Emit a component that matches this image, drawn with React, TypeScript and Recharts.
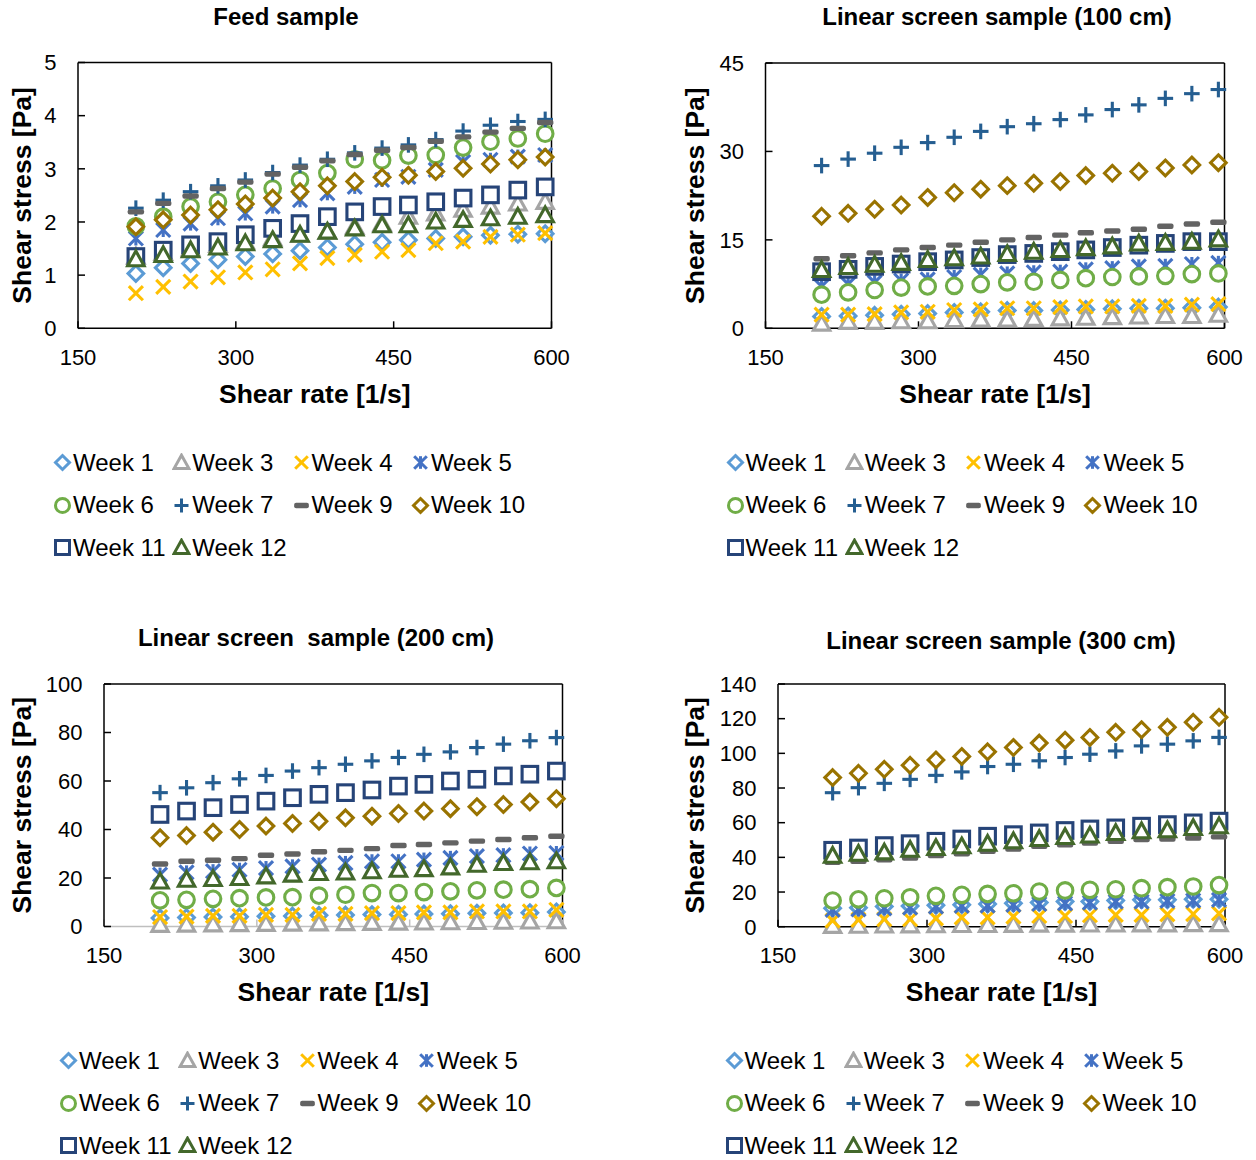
import { ScatterChart, Scatter, XAxis, YAxis, ReferenceLine } from 'recharts';

// shear rates of the ramp, shared by every sample
const shearRate = [205, 231, 257, 283, 309, 335, 361, 387, 413, 439, 464, 490, 516, 542, 568, 594];

const weeks = ['Week 1', 'Week 3', 'Week 4', 'Week 5', 'Week 6', 'Week 7', 'Week 9', 'Week 10', 'Week 11', 'Week 12'];

// shear stress [Pa], one row per entry of `weeks`
const feedStress = [
  [1.03, 1.14, 1.22, 1.29, 1.35, 1.4, 1.46, 1.52, 1.58, 1.62, 1.66, 1.69, 1.72, 1.75, 1.77, 1.78],
  [1.35, 1.42, 1.5, 1.57, 1.63, 1.69, 1.76, 1.82, 1.91, 1.97, 2.1, 2.16, 2.23, 2.29, 2.35, 2.38],
  [0.66, 0.78, 0.88, 0.96, 1.05, 1.11, 1.22, 1.32, 1.38, 1.44, 1.47, 1.6, 1.63, 1.72, 1.76, 1.79],
  [1.69, 1.85, 1.97, 2.07, 2.16, 2.29, 2.41, 2.54, 2.66, 2.79, 2.85, 2.98, 3.13, 3.17, 3.23, 3.26],
  [1.92, 2.1, 2.29, 2.38, 2.51, 2.63, 2.79, 2.92, 3.18, 3.16, 3.25, 3.26, 3.4, 3.51, 3.57, 3.66],
  [2.26, 2.41, 2.57, 2.68, 2.79, 2.93, 3.07, 3.18, 3.3, 3.39, 3.45, 3.55, 3.71, 3.82, 3.89, 3.93],
  [2.19, 2.35, 2.49, 2.63, 2.75, 2.9, 3.03, 3.15, 3.27, 3.35, 3.4, 3.52, 3.6, 3.69, 3.76, 3.87],
  [1.91, 2.04, 2.13, 2.23, 2.34, 2.45, 2.57, 2.68, 2.76, 2.84, 2.88, 2.95, 3.01, 3.09, 3.17, 3.22],
  [1.35, 1.47, 1.57, 1.63, 1.76, 1.88, 1.97, 2.1, 2.19, 2.29, 2.32, 2.38, 2.45, 2.51, 2.6, 2.66],
  [1.3, 1.38, 1.47, 1.52, 1.6, 1.66, 1.76, 1.82, 1.88, 1.94, 1.94, 2.01, 2.04, 2.07, 2.1, 2.13],
];

const screen100Stress = [
  [2.0, 2.1, 2.2, 2.4, 2.5, 2.7, 2.8, 3.0, 3.0, 3.1, 3.2, 3.3, 3.4, 3.4, 3.5, 3.6],
  [0.8, 1.1, 1.1, 1.2, 1.2, 1.4, 1.5, 1.5, 1.6, 1.7, 1.8, 1.9, 2.0, 2.1, 2.1, 2.3],
  [2.3, 2.3, 2.4, 2.7, 2.8, 3.1, 3.2, 3.4, 3.4, 3.6, 3.7, 3.7, 3.8, 3.8, 4.0, 4.1],
  [7.1, 7.5, 7.8, 8.1, 8.3, 8.7, 9.1, 9.3, 9.5, 9.6, 10.0, 10.2, 10.5, 10.6, 10.9, 11.1],
  [5.7, 6.1, 6.5, 6.9, 7.1, 7.2, 7.5, 7.8, 7.9, 8.2, 8.5, 8.7, 8.8, 8.9, 9.2, 9.3],
  [27.6, 28.7, 29.7, 30.7, 31.5, 32.4, 33.4, 34.2, 34.7, 35.4, 36.2, 37.1, 37.9, 39.0, 39.8, 40.5],
  [11.8, 12.3, 12.8, 13.3, 13.7, 14.1, 14.6, 15.0, 15.4, 15.8, 16.2, 16.5, 16.8, 17.3, 17.7, 18.0],
  [19.0, 19.5, 20.2, 20.9, 22.2, 23.0, 23.6, 24.2, 24.6, 24.9, 25.9, 26.3, 26.6, 27.2, 27.7, 28.1],
  [9.6, 10.0, 10.5, 10.9, 11.3, 11.6, 12.0, 12.5, 12.7, 13.0, 13.3, 13.7, 14.1, 14.4, 14.7, 14.7],
  [9.9, 10.4, 10.8, 11.1, 11.6, 11.9, 12.2, 12.6, 13.0, 13.3, 13.6, 13.9, 14.4, 14.5, 14.7, 15.1],
];

const screen200Stress = [
  [3.5, 3.7, 3.9, 4.0, 4.2, 4.3, 4.6, 4.7, 4.9, 5.0, 5.2, 5.3, 5.5, 5.6, 5.7, 6.0],
  [0.7, 0.8, 0.9, 1.0, 1.1, 1.2, 1.3, 1.4, 1.5, 1.6, 1.7, 1.8, 1.9, 2.0, 2.1, 2.2],
  [3.9, 4.1, 4.4, 4.4, 4.8, 4.8, 5.2, 5.2, 5.5, 5.5, 5.8, 5.8, 6.2, 6.2, 6.2, 6.9],
  [21.4, 22.3, 22.8, 23.4, 24.1, 24.8, 25.5, 26.2, 26.9, 26.9, 27.6, 28.3, 29.0, 29.4, 30.1, 30.3],
  [10.8, 11.0, 11.4, 11.7, 12.0, 12.1, 12.7, 13.1, 13.8, 13.8, 14.2, 14.5, 14.9, 15.2, 15.4, 15.9],
  [55.2, 57.2, 59.3, 60.9, 62.3, 64.1, 65.5, 66.9, 68.3, 69.7, 71.0, 72.0, 73.8, 75.2, 76.6, 77.9],
  [25.8, 26.9, 27.3, 28.0, 29.4, 29.9, 30.8, 31.4, 32.1, 33.4, 33.8, 34.5, 35.2, 35.9, 36.6, 37.2],
  [36.6, 37.5, 38.9, 40.0, 41.4, 42.5, 43.4, 44.8, 45.5, 46.6, 47.6, 48.6, 49.4, 50.3, 51.3, 52.7],
  [46.2, 47.6, 49.0, 50.3, 51.7, 53.1, 54.5, 55.2, 56.3, 57.9, 58.6, 60.0, 60.7, 62.1, 62.8, 64.1],
  [18.6, 19.3, 19.6, 20.0, 20.7, 21.4, 22.1, 22.3, 22.8, 23.4, 23.7, 24.4, 25.5, 26.2, 26.5, 26.9],
];

const screen300Stress = [
  [10.6, 11.0, 11.6, 12.0, 12.4, 12.6, 13.1, 13.5, 13.9, 14.5, 14.5, 15.1, 15.5, 15.5, 15.8, 15.8],
  [0.5, 0.6, 0.7, 0.8, 0.9, 1.0, 1.0, 1.1, 1.2, 1.2, 1.3, 1.3, 1.4, 1.4, 1.5, 1.5],
  [3.5, 3.9, 4.3, 4.3, 4.8, 5.4, 5.4, 5.8, 6.2, 6.2, 6.6, 6.8, 6.8, 7.1, 7.3, 7.7],
  [9.7, 10.0, 10.6, 11.0, 11.6, 12.0, 12.2, 12.6, 13.1, 13.5, 13.9, 14.5, 14.5, 14.9, 15.1, 15.5],
  [15.1, 15.8, 16.4, 17.0, 17.8, 18.4, 18.9, 19.3, 20.3, 20.9, 21.3, 21.6, 22.2, 22.8, 23.2, 24.0],
  [77.3, 80.2, 82.7, 85.0, 87.3, 89.3, 92.4, 93.7, 95.7, 97.6, 99.5, 101.4, 104.3, 105.3, 107.2, 109.2],
  [37.1, 37.7, 38.6, 39.6, 41.0, 42.1, 43.5, 44.8, 46.4, 47.3, 48.3, 49.3, 50.2, 50.6, 51.2, 51.8],
  [86.0, 88.5, 90.8, 93.1, 96.2, 98.2, 100.9, 103.4, 105.9, 107.6, 109.2, 112.1, 113.6, 115.0, 117.9, 120.8],
  [44.1, 45.4, 46.8, 47.9, 49.3, 50.6, 52.2, 53.1, 54.1, 55.5, 56.4, 57.0, 58.0, 58.9, 59.9, 60.9],
  [41.0, 42.1, 42.9, 44.4, 45.4, 46.4, 47.9, 49.3, 50.6, 51.8, 52.6, 54.1, 55.1, 55.7, 57.0, 58.0],
];

const rateTicks = [150, 300, 450, 600];

const markerColors = ['#5B9BD5', '#A5A5A5', '#FFC000', '#4472C4', '#70AD47', '#255E91', '#636363', '#997300', '#264478', '#43682B'];
const markerKinds = ['diamond', 'triangle', 'x', 'star', 'circle', 'plus', 'dash', 'diamond', 'square', 'triangle'];

const FONT = "Arial, 'Liberation Sans', sans-serif";
const CHART_W = 628;
const CHART_H = 420;
const X_AXIS_H = 80;

type GlyphProps = { kind: string; color: string; cx: number; cy: number; s?: number; sw?: number };

function Glyph({ kind, color, cx, cy, s = 7.5, sw = 3 }: GlyphProps) {
  const line = { stroke: color, strokeWidth: sw, fill: 'none' };
  const outline = { stroke: color, strokeWidth: sw, fill: '#fff', strokeLinejoin: 'miter' as const };
  switch (kind) {
    case 'diamond':
      return <polygon points={`${cx},${cy - s} ${cx + s},${cy} ${cx},${cy + s} ${cx - s},${cy}`} {...outline} />;
    case 'triangle': {
      const t = s * 1.05;
      return <polygon points={`${cx},${cy - t} ${cx + t},${cy + t * 0.8} ${cx - t},${cy + t * 0.8}`} {...outline} />;
    }
    case 'square':
      return <rect x={cx - s} y={cy - s} width={s * 2} height={s * 2} {...outline} />;
    case 'circle':
      return <circle cx={cx} cy={cy} r={s} {...outline} />;
    case 'plus': {
      const a = s;
      return (
        <g {...line}>
          <line x1={cx - a} y1={cy} x2={cx + a} y2={cy} />
          <line x1={cx} y1={cy - a} x2={cx} y2={cy + a} />
        </g>
      );
    }
    case 'x': {
      const a = s * 0.9;
      return (
        <g {...line}>
          <line x1={cx - a} y1={cy - a} x2={cx + a} y2={cy + a} />
          <line x1={cx - a} y1={cy + a} x2={cx + a} y2={cy - a} />
        </g>
      );
    }
    case 'star': {
      const a = s * 0.9;
      return (
        <g {...line}>
          <line x1={cx - a} y1={cy - a} x2={cx + a} y2={cy + a} />
          <line x1={cx - a} y1={cy + a} x2={cx + a} y2={cy - a} />
          <line x1={cx} y1={cy - a} x2={cx} y2={cy + a} />
        </g>
      );
    }
    case 'dash':
      return <rect x={cx - s * 1.05} y={cy - 2.7} width={s * 2.1} height={5.4} rx={2} fill={color} />;
    default:
      return null;
  }
}

function WeekLegend({ x, y }: { x: number; y: number }) {
  return (
    <div
      style={{
        position: 'absolute',
        left: x,
        top: y,
        width: 4 * 119.3,
        display: 'flex',
        flexWrap: 'wrap',
        fontFamily: FONT,
        fontSize: 24,
        color: '#000',
      }}
    >
      {weeks.map((w, k) => (
        <div key={w} style={{ width: 119.3, height: 42.6, display: 'flex', alignItems: 'center' }}>
          <svg width={19} height={19} style={{ flex: 'none' }}>
            <Glyph kind={markerKinds[k]} color={markerColors[k]} cx={9.5} cy={9.5} s={7} sw={3} />
          </svg>
          <span style={{ marginLeft: 1, whiteSpace: 'nowrap' }}>{w}</span>
        </div>
      ))}
    </div>
  );
}

type PanelProps = {
  title: string;
  stress: number[][];
  yMax: number;
  yTicks: number[];
  left: number;
  top: number;
  plot: { left: number; right: number; top: number; bottom: number };
  yTitleX: number;
  titleX: number;
  titleY: number;
  legendX: number;
  legendY: number;
  baseStroke?: string;
};

function Panel(p: PanelProps) {
  const margin = {
    top: p.plot.top - p.top,
    right: p.left + CHART_W - p.plot.right,
    bottom: p.top + CHART_H - p.plot.bottom - X_AXIS_H,
    left: 0,
  };
  const yAxisW = p.plot.left - p.left;
  const tickFont = { fontSize: 22, fill: '#000', fontFamily: FONT };
  const axisTitle = { fontSize: 26.5, fontWeight: 700, fill: '#000', fontFamily: FONT };
  const base = p.baseStroke ?? '#000';

  return (
    <>
      <div
        style={{
          position: 'absolute',
          left: p.titleX - 300,
          top: p.titleY - 14,
          width: 600,
          lineHeight: '28px',
          textAlign: 'center',
          fontFamily: FONT,
          fontSize: 24,
          fontWeight: 700,
          whiteSpace: 'pre',
        }}
      >
        {p.title}
      </div>
      <div style={{ position: 'absolute', left: p.left, top: p.top }}>
        <ScatterChart width={CHART_W} height={CHART_H} margin={margin}>
          <XAxis
            type="number"
            dataKey="x"
            domain={[150, 600]}
            ticks={rateTicks}
            interval={0}
            height={X_AXIS_H}
            tick={tickFont}
            tickSize={-7}
            tickMargin={28}
            tickLine={{ stroke: base, strokeWidth: 1.5 }}
            axisLine={{ stroke: base, strokeWidth: 1.5 }}
            label={{
              content: ({ viewBox }: any) => (
                <text x={viewBox.x + viewBox.width / 2} y={viewBox.y + 65} dy="0.35em" textAnchor="middle" style={axisTitle}>
                  Shear rate [1/s]
                </text>
              ),
            }}
          />
          <YAxis
            type="number"
            dataKey="y"
            domain={[0, p.yMax]}
            ticks={p.yTicks}
            interval={0}
            width={yAxisW}
            tick={tickFont}
            tickSize={-7}
            tickMargin={28.5}
            tickLine={{ stroke: '#000', strokeWidth: 1.5 }}
            axisLine={{ stroke: '#000', strokeWidth: 1.5 }}
            label={{
              content: ({ viewBox }: any) => {
                const lx = p.yTitleX - p.left;
                const ly = viewBox.y + viewBox.height / 2;
                return (
                  <text x={lx} y={ly} dy="0.35em" textAnchor="middle" transform={`rotate(-90, ${lx}, ${ly})`} style={axisTitle}>
                    Shear stress [Pa]
                  </text>
                );
              },
            }}
          />
          <ReferenceLine y={p.yMax} stroke="#000" strokeWidth={1.5} />
          <ReferenceLine x={600} stroke="#000" strokeWidth={1.5} />
          {weeks.map((w, k) => (
            <Scatter
              key={w}
              name={w}
              data={shearRate.map((x, i) => ({ x, y: p.stress[k][i] }))}
              isAnimationActive={false}
              shape={(sp: any) => <Glyph kind={markerKinds[k]} color={markerColors[k]} cx={sp.cx} cy={sp.cy} s={7.8} sw={3.1} />}
            />
          ))}
        </ScatterChart>
      </div>
      <WeekLegend x={p.legendX} y={p.legendY} />
    </>
  );
}

export default function App() {
  return (
    <div style={{ position: 'absolute', left: 0, top: 0, width: 1256, height: 1160, background: '#fff' }}>
      <Panel
        title="Feed sample"
        stress={feedStress}
        yMax={5}
        yTicks={[0, 1, 2, 3, 4, 5]}
        left={0}
        top={0}
        plot={{ left: 78, right: 551.5, top: 62.5, bottom: 328.3 }}
        yTitleX={22}
        titleX={286}
        titleY={17}
        legendX={53}
        legendY={441.5}
      />
      <Panel
        title="Linear screen sample (100 cm)"
        stress={screen100Stress}
        yMax={45}
        yTicks={[0, 15, 30, 45]}
        left={628}
        top={0}
        plot={{ left: 765.5, right: 1224.5, top: 63, bottom: 328.3 }}
        yTitleX={695}
        titleX={997}
        titleY={17}
        legendX={725.5}
        legendY={441.5}
      />
      <Panel
        title="Linear screen  sample (200 cm)"
        stress={screen200Stress}
        yMax={100}
        yTicks={[0, 20, 40, 60, 80, 100]}
        left={0}
        top={600}
        plot={{ left: 104, right: 562.5, top: 684, bottom: 926.5 }}
        yTitleX={22}
        titleX={316}
        titleY={638}
        legendX={59}
        legendY={1039.5}
        baseStroke="#BFBFBF"
      />
      <Panel
        title="Linear screen sample (300 cm)"
        stress={screen300Stress}
        yMax={140}
        yTicks={[0, 20, 40, 60, 80, 100, 120, 140]}
        left={628}
        top={600}
        plot={{ left: 778, right: 1225, top: 684, bottom: 926.7 }}
        yTitleX={695}
        titleX={1001}
        titleY={641}
        legendX={724.5}
        legendY={1039.5}
      />
    </div>
  );
}
